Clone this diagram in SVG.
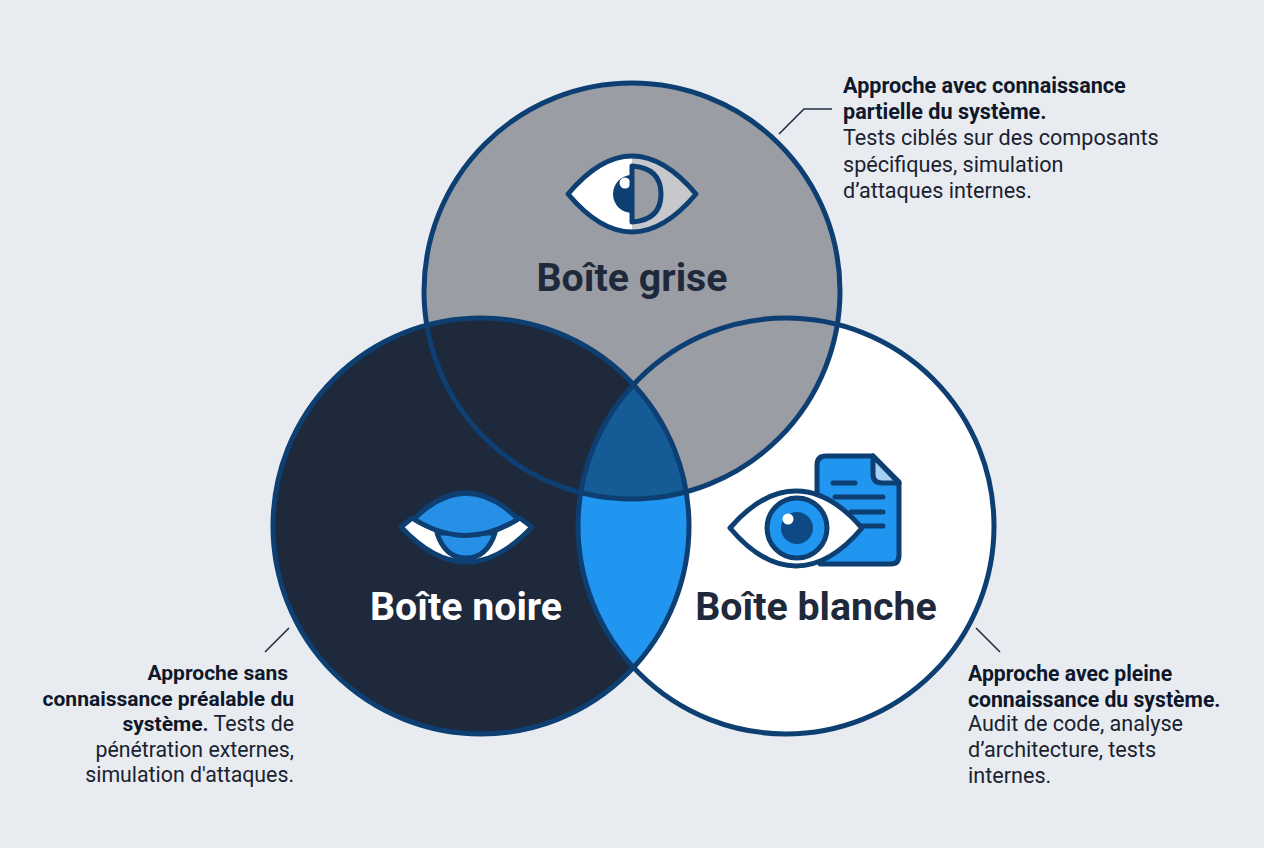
<svg xmlns="http://www.w3.org/2000/svg" width="1264" height="848" viewBox="0 0 1264 848">
<style>
text{font-family:Roboto,"Liberation Sans",sans-serif}
.t{font-size:39.300px;font-weight:700;text-anchor:middle}
.d{font-size:21.600px;fill:#1a2230}
.l{font-size:21.300px}
.b{font-weight:700;fill:#0f172a}
.s{font-size:21.200px}
.k{font-size:21px}
.r{text-anchor:end}
.ring{fill:none;stroke:#0d3f73;stroke-width:5}
.ic{stroke:#0d3f73;stroke-width:5;stroke-linejoin:round;stroke-linecap:round}
.lead{fill:none;stroke:#1e2f44;stroke-width:1.600}
</style>
<rect width="1264" height="848" fill="#e8ecf0"/>
<defs>
<clipPath id="cg"><circle cx="632" cy="291" r="208"/></clipPath>
<clipPath id="cb"><circle cx="481" cy="526" r="208"/></clipPath>
</defs>
<g id="fills">
<circle cx="786" cy="526" r="208" fill="#fff"/>
<circle cx="632" cy="291" r="208" fill="#9a9da3"/>
<circle cx="481" cy="526" r="208" fill="#1e293b"/>
<g clip-path="url(#cb)"><circle cx="786" cy="526" r="208" fill="#2196f0"/>
<g clip-path="url(#cg)"><circle cx="786" cy="526" r="208" fill="#155c96"/></g></g>
</g>
<g id="connectors">
<path class="lead" d="M779 134L804 109H832"/>
<path class="lead" d="M265 652L289 628"/>
<path class="lead" d="M976 628L1000 652"/>
</g>
<g id="boite-grise">
<circle class="ring" cx="632" cy="291" r="208"/>
<path d="M568 194Q632 118 696 194Q632 270 568 194Z" fill="#fff"/>
<path d="M632 156Q668 160 696 194Q668 228 632 232Z" fill="#c6c8cb"/>
<path d="M632 175A19 19 0 0 0 632 213Z" fill="#0d3f73"/>
<circle cx="625" cy="183" r="5.500" fill="#fff"/>
<path class="ic" d="M632 166Q661 168 661 194Q661 220 632 222Z" fill="#9a9da3" stroke-width="4"/>
<path class="ic" d="M568 194Q632 118 696 194Q632 270 568 194Z" fill="none"/>
<text class="t" x="632" y="291" fill="#1e293b">Boîte grise</text>
<text class="d" x="843" y="92.500"><tspan class="b">Approche avec connaissance</tspan></text>
<text class="d" x="843" y="119"><tspan class="b">partielle du système.</tspan></text>
<text class="d" x="843" y="145">Tests ciblés sur des composants</text>
<text class="d" x="843" y="171.500">spécifiques, simulation</text>
<text class="d" x="843" y="197.500">d’attaques internes.</text>
</g>
<g id="boite-noire">
<circle class="ring" cx="481" cy="526" r="208"/>
<path d="M401 527L412 518Q466 552 520 518L532 527Q466 597 401 527Z" fill="#fff" stroke="#0d3f73" stroke-width="5" stroke-linejoin="round"/>
<path class="ic" d="M437 533Q445 558 466 558Q487 558 495 533Z" fill="#2590e6"/>
<path class="ic" d="M414 519Q466 467 518 519Q466 552 414 519Z" fill="#2590e6"/>
<text class="t" x="466" y="620" fill="#fff">Boîte noire</text>
<text class="d k r" x="288" y="680"><tspan class="b">Approche sans</tspan></text>
<text class="d k r" x="294" y="705.500"><tspan class="b">connaissance préalable du</tspan></text>
<text class="d l r" x="294" y="731"><tspan class="b k">système.</tspan> Tests de</text>
<text class="d l r" x="294" y="757">pénétration externes,</text>
<text class="d l r" x="294" y="782">simulation d'attaques.</text>
</g>
<g id="boite-blanche">
<circle class="ring" cx="786" cy="526" r="208"/>
<path class="ic" d="M817 465Q817 456 826 456H873L899 482V555Q899 564 891 564H820L817 500Z" fill="#2196f0"/>
<path class="ic" d="M873 456V474Q873 483 882 483H899Z" fill="#a5cff3"/>
<path class="ic" d="M833 483H855M835 497H883M851 512H883M860 526H883" fill="none" stroke-width="4.500"/>
<path class="ic" d="M730 528Q762 491 796 491Q830 491 862 528Q830 566 796 566Q762 566 730 528Z" fill="#fff"/>
<circle class="ic" cx="797" cy="528" r="30" fill="#2196f0"/>
<circle cx="797" cy="528" r="16" fill="#0d4a85"/>
<circle cx="788" cy="519" r="5.500" fill="#fff"/>
<text class="t" x="816" y="620" fill="#1e293b">Boîte blanche</text>
<text class="d s" x="968" y="681"><tspan class="b">Approche avec pleine</tspan></text>
<text class="d s" x="968" y="707"><tspan class="b">connaissance du système.</tspan></text>
<text class="d" x="968" y="731">Audit de code, analyse</text>
<text class="d" x="968" y="757">d’architecture, tests</text>
<text class="d" x="968" y="783">internes.</text>
</g>
</svg>
